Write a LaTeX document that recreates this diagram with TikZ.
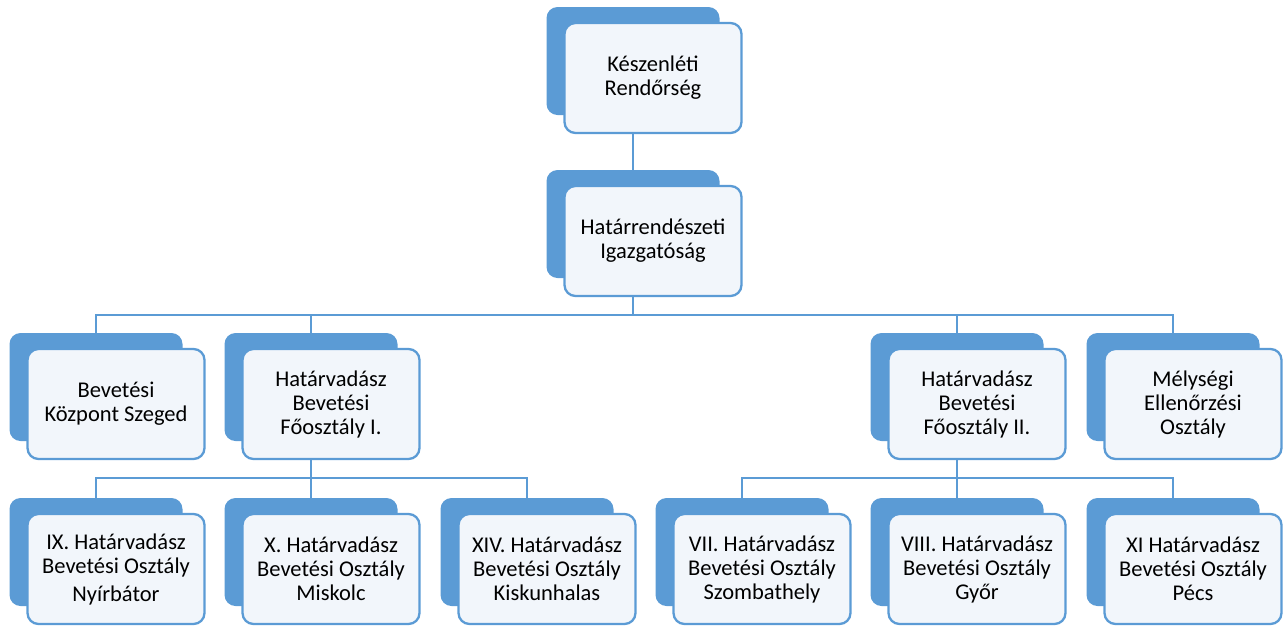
\documentclass[tikz,border=0pt]{standalone}
\usepackage{fontspec}
\setmainfont{Carlito}
\usetikzlibrary{calc}

\definecolor{szblue}{RGB}{91,155,213}
\definecolor{szpale}{RGB}{242,246,251}

\tikzset{
  hatter/.style={fill=szblue, rounded corners=11pt, minimum width=173pt, minimum height=108pt, inner sep=0pt},
  doboz/.style={fill=szpale, draw=szblue, line width=2.3pt, rounded corners=11pt, minimum width=177pt, minimum height=110pt, inner sep=0pt, align=center, font=\fontsize{22.5}{24}\selectfont},
  vonal/.style={draw=szblue, line width=2.5pt}
}

\begin{document}
\begin{tikzpicture}[x=1pt,y=-1pt]
        \useasboundingbox (0,0) rectangle (1283,625);

        % felso szint
        \node[hatter] (kr-b) at (633,61) {};
        \node[doboz] (kr) at ($(kr-b)+(20,17)$) {Készenléti\\Rendőrség};
        \node[hatter] (hi-b) at (633,224) {};
        \node[doboz] (hi) at ($(hi-b)+(20,17)$) {Határrendészeti\\Igazgatóság};

        % masodik szint
        \node[hatter] (bk-b) at (96,387) {};
        \node[doboz] (bk) at ($(bk-b)+(20,17)$) {Bevetési\\Központ Szeged};
        \node[hatter] (hf1-b) at (311,387) {};
        \node[doboz] (hf1) at ($(hf1-b)+(20,17)$) {Határvadász\\Bevetési\\Főosztály I.};
        \node[hatter] (hf2-b) at (957,387) {};
        \node[doboz] (hf2) at ($(hf2-b)+(20,17)$) {Határvadász\\Bevetési\\Főosztály II.};
        \node[hatter] (me-b) at (1173,387) {};
        \node[doboz] (me) at ($(me-b)+(20,17)$) {Mélységi\\Ellenőrzési\\Osztály};

        % harmadik szint
        \node[hatter] (o9-b) at (96,552) {};
        \node[doboz] (o9) at ($(o9-b)+(20,17)$) {IX. Határvadász\\Bevetési Osztály\\[4pt]Nyírbátor};
        \node[hatter] (o10-b) at (311,552) {};
        \node[doboz] (o10) at ($(o10-b)+(20,17)$) {X. Határvadász\\Bevetési Osztály\\Miskolc};
        \node[hatter] (o14-b) at (527,552) {};
        \node[doboz] (o14) at ($(o14-b)+(20,17)$) {XIV. Határvadász\\Bevetési Osztály\\Kiskunhalas};
        \node[hatter] (o7-b) at (742,552) {};
        \node[doboz] (o7) at ($(o7-b)+(20,17)$) {VII. Határvadász\\Bevetési Osztály\\Szombathely};
        \node[hatter] (o8-b) at (957,552) {};
        \node[doboz] (o8) at ($(o8-b)+(20,17)$) {VIII. Határvadász\\Bevetési Osztály\\Győr};
        \node[hatter] (o11-b) at (1173,552) {};
        \node[doboz] (o11) at ($(o11-b)+(20,17)$) {XI Határvadász\\Bevetési Osztály\\Pécs};

        % vonalak
        \coordinate (sin1) at (633,315);
        \coordinate (sin2) at (311,478);
        \coordinate (sin3) at (957,478);

        \draw[vonal] (kr.south -| kr-b.north) -- (hi-b.north);
        \draw[vonal] (hi.south -| hi-b.north) -- (sin1);
        \draw[vonal] (bk-b.north) |- (sin1) -| (me-b.north);
        \draw[vonal] (hf1-b.north) -- (hf1-b.north |- sin1);
        \draw[vonal] (hf2-b.north) -- (hf2-b.north |- sin1);

        \draw[vonal] (hf1.south -| hf1-b.north) -- (sin2);
        \draw[vonal] (o9-b.north) |- (sin2) -| (o14-b.north);
        \draw[vonal] (o10-b.north) -- (sin2);

        \draw[vonal] (hf2.south -| hf2-b.north) -- (sin3);
        \draw[vonal] (o7-b.north) |- (sin3) -| (o11-b.north);
        \draw[vonal] (o8-b.north) -- (sin3);

        \end{tikzpicture}
\end{document}
